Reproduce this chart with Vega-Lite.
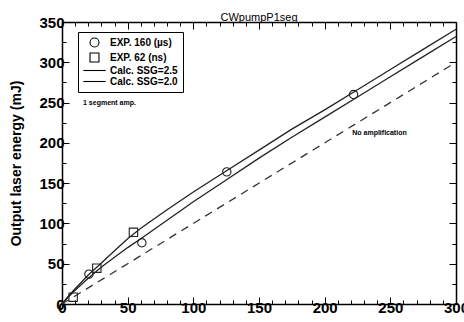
{
  "$schema": "https://vega.github.io/schema/vega-lite/v6.json",
  "width": 394,
  "height": 282,
  "autosize": "none",
  "padding": {"left": 62, "top": 22, "right": 8, "bottom": 18},
  "background": "white",
  "config": {
    "font": "Liberation Sans",
    "view": {"stroke": null},
    "axis": {"grid": false, "domainColor": "black", "domainWidth": 1.5, "tickColor": "black", "tickWidth": 1, "labelFont": "Liberation Sans", "labelFontWeight": "bold", "labelFontSize": 15, "labelColor": "black", "titleFont": "Liberation Sans", "titleFontWeight": "bold", "titleColor": "black"}
  },
  "title": {"text": "CWpumpP1seg", "fontSize": 11, "fontWeight": "normal", "font": "Liberation Sans", "color": "black", "offset": 0, "dy": 8, "anchor": "middle"},
  "resolve": {"axis": {"x": "independent", "y": "independent"}},
  "layer": [
    {
      "data": {"values": [
        {"x": 0, "y": 0, "series": "Calc. SSG=2.5"},
        {"x": 5, "y": 10, "series": "Calc. SSG=2.5"},
        {"x": 10, "y": 19, "series": "Calc. SSG=2.5"},
        {"x": 20, "y": 36, "series": "Calc. SSG=2.5"},
        {"x": 30, "y": 51, "series": "Calc. SSG=2.5"},
        {"x": 40, "y": 66, "series": "Calc. SSG=2.5"},
        {"x": 50, "y": 81, "series": "Calc. SSG=2.5"},
        {"x": 60, "y": 94, "series": "Calc. SSG=2.5"},
        {"x": 80, "y": 117, "series": "Calc. SSG=2.5"},
        {"x": 100, "y": 139, "series": "Calc. SSG=2.5"},
        {"x": 125, "y": 165, "series": "Calc. SSG=2.5"},
        {"x": 150, "y": 191, "series": "Calc. SSG=2.5"},
        {"x": 175, "y": 217, "series": "Calc. SSG=2.5"},
        {"x": 200, "y": 241, "series": "Calc. SSG=2.5"},
        {"x": 225, "y": 266, "series": "Calc. SSG=2.5"},
        {"x": 250, "y": 291, "series": "Calc. SSG=2.5"},
        {"x": 275, "y": 316, "series": "Calc. SSG=2.5"},
        {"x": 300, "y": 341, "series": "Calc. SSG=2.5"},
        {"x": 0, "y": 0, "series": "Calc. SSG=2.0"},
        {"x": 5, "y": 9, "series": "Calc. SSG=2.0"},
        {"x": 10, "y": 17, "series": "Calc. SSG=2.0"},
        {"x": 20, "y": 32, "series": "Calc. SSG=2.0"},
        {"x": 30, "y": 46, "series": "Calc. SSG=2.0"},
        {"x": 40, "y": 58, "series": "Calc. SSG=2.0"},
        {"x": 50, "y": 70, "series": "Calc. SSG=2.0"},
        {"x": 60, "y": 81, "series": "Calc. SSG=2.0"},
        {"x": 80, "y": 104, "series": "Calc. SSG=2.0"},
        {"x": 100, "y": 127, "series": "Calc. SSG=2.0"},
        {"x": 125, "y": 154, "series": "Calc. SSG=2.0"},
        {"x": 150, "y": 181, "series": "Calc. SSG=2.0"},
        {"x": 175, "y": 207, "series": "Calc. SSG=2.0"},
        {"x": 200, "y": 232, "series": "Calc. SSG=2.0"},
        {"x": 225, "y": 257, "series": "Calc. SSG=2.0"},
        {"x": 250, "y": 282, "series": "Calc. SSG=2.0"},
        {"x": 275, "y": 307, "series": "Calc. SSG=2.0"},
        {"x": 300, "y": 332, "series": "Calc. SSG=2.0"}
      ]},
      "mark": {"type": "line", "color": "#222", "strokeWidth": 1.3},
      "encoding": {
        "x": {"field": "x", "type": "quantitative", "scale": {"domain": [0, 300], "nice": false},
          "axis": {"orient": "bottom", "title": null, "values": [0, 50, 100, 150, 200, 250, 300], "labelOverlap": false, "labelFlush": false, "tickSize": -7, "labelPadding": 3}},
        "y": {"field": "y", "type": "quantitative", "scale": {"domain": [0, 350], "nice": false},
          "axis": {"orient": "left", "title": "Output laser energy (mJ)", "titleFontSize": 14, "titlePadding": 15, "values": [0, 50, 100, 150, 200, 250, 300, 350], "labelOverlap": false, "labelFlush": false, "tickSize": -7, "labelPadding": 5}},
        "detail": {"field": "series", "type": "nominal"}
      }
    },
    {
      "data": {"values": [{"x": 0, "y": 0}, {"x": 300, "y": 300}]},
      "mark": {"type": "line", "color": "#333", "strokeWidth": 1.3, "strokeDash": [8, 6]},
      "encoding": {
        "x": {"field": "x", "type": "quantitative",
          "axis": {"orient": "top", "title": null, "labels": false, "values": [0, 50, 100, 150, 200, 250, 300], "tickSize": -7}},
        "y": {"field": "y", "type": "quantitative",
          "axis": {"orient": "right", "title": null, "labels": false, "values": [0, 50, 100, 150, 200, 250, 300, 350], "tickSize": -7}}
      }
    },
    {
      "data": {"values": [
        {"x": 20.5, "y": 37, "series": "EXP. 160 (µs)"},
        {"x": 60.8, "y": 76, "series": "EXP. 160 (µs)"},
        {"x": 125.5, "y": 164, "series": "EXP. 160 (µs)"},
        {"x": 222, "y": 260, "series": "EXP. 160 (µs)"},
        {"x": 8.5, "y": 8.5, "series": "EXP. 62 (ns)"},
        {"x": 26.5, "y": 44.5, "series": "EXP. 62 (ns)"},
        {"x": 54.4, "y": 89, "series": "EXP. 62 (ns)"}
      ]},
      "mark": {"type": "point", "filled": false, "color": "#222", "size": 70, "strokeWidth": 1.1, "opacity": 1},
      "encoding": {
        "x": {"field": "x", "type": "quantitative",
          "axis": {"orient": "bottom", "title": null, "labels": false, "domain": false, "values": [10,20,30,40,60,70,80,90,110,120,130,140,160,170,180,190,210,220,230,240,260,270,280,290], "tickSize": -4}},
        "y": {"field": "y", "type": "quantitative",
          "axis": {"orient": "left", "title": null, "labels": false, "domain": false, "values": [25, 75, 125, 175, 225, 275, 325], "tickSize": -4}},
        "shape": {"field": "series", "type": "nominal",
          "scale": {"domain": ["EXP. 160 (µs)", "EXP. 62 (ns)", "Calc. SSG=2.5", "Calc. SSG=2.0"], "range": ["circle", "square", "M-2.5,0H2.5", "M-2.5,0H2.5"]},
          "legend": {"title": null, "orient": "none", "legendX": 16, "legendY": 10, "padding": 5, "strokeColor": "black", "fillColor": "white",
            "symbolSize": 80, "symbolStrokeColor": "black", "symbolFillColor": "transparent", "symbolStrokeWidth": 1.1, "symbolOffset": 6,
            "labelFont": "Liberation Sans", "labelFontWeight": "bold", "labelFontSize": 10, "labelColor": "black", "labelOffset": 10, "rowPadding": 0}}
      }
    },
    {
      "data": {"values": [
        {"x": 16, "y": 249, "label": "1 segment amp."},
        {"x": 221, "y": 212, "label": "No amplification"}
      ]},
      "mark": {"type": "text", "align": "left", "baseline": "middle", "fontSize": 7, "fontWeight": "bold", "font": "Liberation Sans", "color": "black"},
      "encoding": {
        "x": {"field": "x", "type": "quantitative",
          "axis": {"orient": "top", "title": null, "labels": false, "domain": false, "values": [10,20,30,40,60,70,80,90,110,120,130,140,160,170,180,190,210,220,230,240,260,270,280,290], "tickSize": -4}},
        "y": {"field": "y", "type": "quantitative",
          "axis": {"orient": "right", "title": null, "labels": false, "domain": false, "values": [25, 75, 125, 175, 225, 275, 325], "tickSize": -4}},
        "text": {"field": "label"}
      }
    }
  ]
}
